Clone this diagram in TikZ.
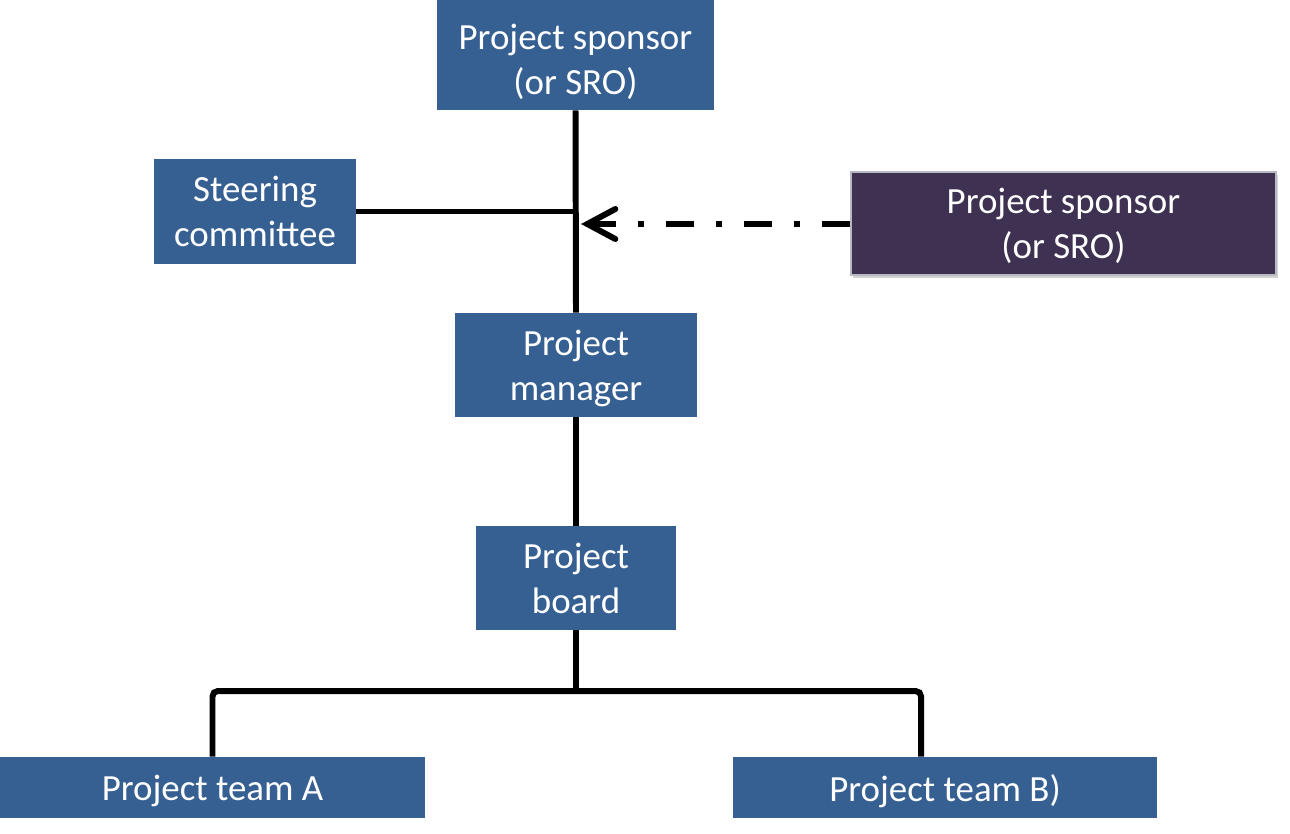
\documentclass[tikz,border=0pt]{standalone}
\usepackage{fontspec}
\setmainfont{Carlito}
\usepackage{tikz}
\usetikzlibrary{positioning,arrows.meta,shadows}
\usepackage{xcolor}
\definecolor{boxblue}{RGB}{55,96,146}
\definecolor{boxpurple}{RGB}{63,49,81}
\definecolor{boxedge}{RGB}{185,185,195}

\begin{document}
\begin{tikzpicture}[x=0.02cm,y=-0.02cm,
  orgbox/.style={rectangle,fill=boxblue,text=white,align=center,inner sep=0pt,
    text depth=0pt,font=\fontsize{21}{25.6}\selectfont},
  outbox/.style={orgbox,fill=boxpurple,draw=boxedge,line width=0.8pt,
    drop shadow={shadow xshift=1.2pt,shadow yshift=-1.6pt,opacity=0.35}},
  link/.style={black,line width=3.4pt},
  advise/.style={link,dash pattern=on 0.56cm off 0.44cm on 0.12cm off 0.44cm,
    -{Straight Barb[length=0.56cm,width=0.6cm,line cap=round]}}]
\useasboundingbox (0,0) rectangle (1290,833);

% top of the chain (box runs off the top edge)
\node[orgbox,text height=45pt,minimum width=5.54cm,minimum height=2.2cm] (sponsor) at (575.5,55) {Project sponsor\\(or SRO)};
\node[orgbox,minimum width=4.04cm,minimum height=2.1cm] (steering) at (255,211.5) {Steering\\committee};
\node[outbox,minimum width=8.5cm,minimum height=2.06cm] (sponsorb) at (1063.5,223.5) {Project sponsor\\(or SRO)};

% middle
\node[orgbox,minimum width=4.84cm,minimum height=2.08cm] (manager) at (576,365) {Project\\manager};
\node[orgbox,minimum width=4.0cm,minimum height=2.08cm] (board) at (576,578) {Project\\board};

% teams
\node[orgbox,minimum width=8.5cm,minimum height=1.22cm] (teamA) at (212.5,787.5) {Project team A};
\node[orgbox,minimum width=8.5cm,minimum height=1.22cm] (teamB) at (945,787.5) {Project team B)};

\coordinate (join) at (581,224);
\coordinate (split) at (576,691);

% connectors
\draw[link] (sponsor.south) -- (manager.north);
\draw[link] (steering.east) -- (steering.east -| sponsor.south);
\draw[advise] (sponsorb.west |- join) -- (join);
\draw[link] (manager.south) -- (board.north);
\draw[link] (board.south) -- (split);
\draw[link,rounded corners=3pt] (teamA.north) |- (split) -| ([xshift=-0.48cm]teamB.north);
\end{tikzpicture}
\end{document}
